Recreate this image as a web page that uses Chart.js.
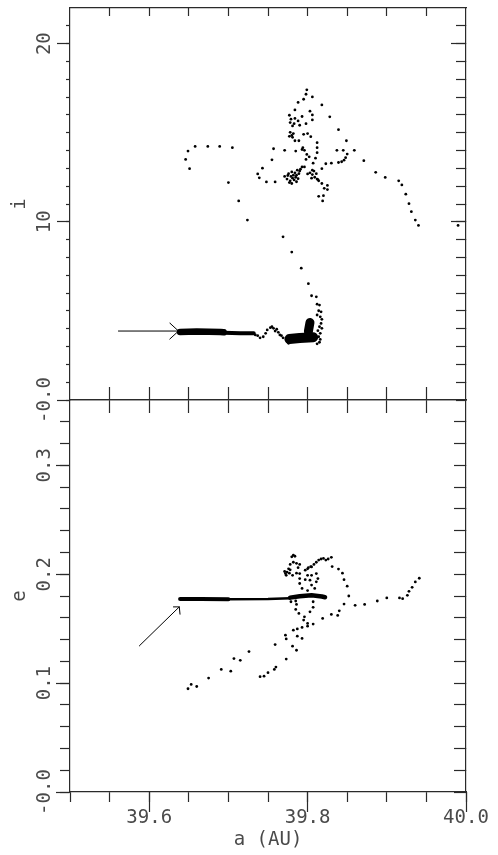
<!DOCTYPE html>
<html>
<head>
<meta charset="utf-8">
<script src="https://cdn.jsdelivr.net/npm/chart.js@4.4.1/dist/chart.umd.min.js"></script>
<style>
  html, body { margin: 0; padding: 0; background: #fff; }
  #wrap { position: relative; width: 498px; height: 855px; overflow: hidden; }
  canvas { position: absolute; left: 0; }
  #incChart { top: 0; }
  #eccChart { top: 380px; }
</style>
</head>
<body>
<div id="wrap">
  <canvas id="incChart" width="498" height="430"></canvas>
  <canvas id="eccChart" width="498" height="475"></canvas>
</div>
<script>
// axis ranges and tick values
const aRange = [39.5, 40.0];
const iRange = [0, 22];
const eRange = [0, 0.36];
const aTicksAll = [39.5, 39.55, 39.6, 39.65, 39.7, 39.75, 39.8, 39.85, 39.9, 39.95, 40.0];
const aTicksInner = [39.55, 39.6, 39.65, 39.7, 39.75, 39.8, 39.85, 39.9, 39.95];
const aTicksLabelled = [39.6, 39.8, 40.0];
const iTicksMinor = [0, 1, 2, 3, 4, 5, 6, 7, 8, 9, 10, 11, 12, 13, 14, 15, 16, 17, 18, 19, 20, 21];
const iTicksMajor = [0, 10, 20];
const eTicksMinor = [0, 0.02, 0.04, 0.06, 0.08, 0.1, 0.12, 0.14, 0.16, 0.18, 0.2, 0.22, 0.24, 0.26, 0.28, 0.3, 0.32, 0.34];
const eTicksMajor = [0, 0.1, 0.2, 0.3];

// upper panel: [a, i]
const topArcPts = [
  [39.649, 13.97], [39.646, 13.50], [39.651, 12.98], [39.658, 14.23], [39.674, 14.23], [39.689, 14.23],
  [39.705, 14.16], [39.700, 12.20], [39.713, 11.17], [39.724, 10.10], [39.769, 9.16], [39.780, 8.30],
  [39.792, 7.40], [39.801, 6.53]
];
const topCloudPts = [
  [39.799, 17.41], [39.798, 17.16], [39.806, 17.01], [39.795, 16.88], [39.788, 16.70], [39.818, 16.56],
  [39.784, 16.28], [39.803, 16.21], [39.806, 16.00], [39.777, 15.98], [39.793, 15.91], [39.828, 15.89],
  [39.779, 15.76], [39.784, 15.80], [39.788, 15.66], [39.778, 15.57], [39.783, 15.51], [39.790, 15.42],
  [39.781, 15.38], [39.798, 15.51], [39.806, 15.72], [39.839, 15.17],
  [39.778, 15.02], [39.780, 14.85], [39.782, 14.95], [39.777, 14.80], [39.781, 14.74],
  [39.800, 14.95], [39.795, 14.91], [39.804, 14.78], [39.789, 14.55], [39.784, 14.55], [39.849, 14.55],
  [39.812, 14.44], [39.812, 14.16], [39.812, 13.88], [39.794, 14.16], [39.793, 14.06], [39.796, 14.01],
  [39.757, 14.10], [39.771, 14.01], [39.785, 13.97], [39.837, 14.01], [39.845, 14.01], [39.859, 14.01],
  [39.850, 13.80], [39.848, 13.60], [39.846, 13.46], [39.843, 13.37], [39.839, 13.33], [39.799, 13.78],
  [39.802, 13.65], [39.798, 13.50], [39.755, 13.48], [39.810, 13.57], [39.807, 13.29], [39.830, 13.29],
  [39.823, 13.26], [39.818, 12.98], [39.871, 13.43], [39.743, 13.01], [39.737, 12.69], [39.739, 12.47],
  [39.748, 12.24], [39.759, 12.24]
];
const topKnotPts = [
  [39.771, 12.55], [39.774, 12.40], [39.776, 12.70], [39.778, 12.30], [39.779, 12.55], [39.780, 12.80],
  [39.781, 12.45], [39.782, 12.62], [39.783, 12.35], [39.784, 12.75], [39.785, 12.50], [39.786, 12.62],
  [39.787, 12.90], [39.788, 12.42], [39.789, 12.70], [39.790, 12.85], [39.791, 12.95], [39.793, 13.08],
  [39.777, 12.20], [39.780, 12.15], [39.775, 12.60], [39.786, 12.25],
  [39.803, 12.75], [39.806, 12.65], [39.809, 12.50], [39.812, 12.40], [39.811, 12.70], [39.805, 12.45],
  [39.814, 12.30], [39.808, 12.85], [39.796, 13.08], [39.800, 12.69], [39.806, 12.90], [39.813, 12.37],
  [39.818, 12.15], [39.825, 12.04], [39.825, 11.81], [39.821, 11.88], [39.814, 11.43], [39.820, 11.47],
  [39.819, 11.17]
];
const topTailPts = [
  [39.886, 12.78], [39.898, 12.49], [39.915, 12.30], [39.919, 12.07], [39.924, 11.55], [39.928, 11.02],
  [39.931, 10.57], [39.936, 10.10], [39.940, 9.80], [39.990, 9.80]
];
const topColumnPts = [
  [39.805, 5.85], [39.811, 5.79], [39.812, 5.38], [39.815, 5.33], [39.814, 5.01], [39.817, 4.95],
  [39.812, 4.77], [39.816, 4.67], [39.818, 4.53], [39.817, 4.30], [39.815, 4.11], [39.818, 4.02],
  [39.813, 3.89], [39.816, 3.74], [39.814, 3.55], [39.816, 3.40], [39.815, 3.24], [39.812, 3.15],
  [39.776, 3.18]
];
const topWigglePts = [
  [39.734, 3.65], [39.737, 3.61], [39.740, 3.49], [39.744, 3.55], [39.747, 3.74], [39.749, 3.93],
  [39.753, 4.06], [39.755, 4.11], [39.757, 4.02], [39.759, 3.87], [39.761, 3.97], [39.763, 3.80],
  [39.765, 3.65], [39.767, 3.61], [39.769, 3.49], [39.773, 3.37]
];
// dense streaks drawn as thick strokes
const topBandWide = [[39.639, 3.82], [39.660, 3.84], [39.690, 3.82], [39.694, 3.80]];
const topBandNarrow = [[39.694, 3.78], [39.715, 3.74], [39.732, 3.74]];
const topBlobLow = [[39.777, 3.42], [39.790, 3.48], [39.807, 3.52]];
const topBlobHigh = [[39.801, 3.85], [39.803, 4.35]];
const topArrow = [[39.561, 3.87], [39.637, 3.87]];
const topArrowHead = [[39.626, 4.32], [39.637, 3.87], [39.626, 3.42]];

// lower panel: [a, e]
const eLoopPts = [
  [39.782, 0.2175], [39.784, 0.2165], [39.780, 0.2160], [39.776, 0.205], [39.778, 0.209], [39.782, 0.211],
  [39.786, 0.210], [39.788, 0.206], [39.786, 0.201], [39.781, 0.199], [39.777, 0.201], [39.771, 0.2025],
  [39.773, 0.199], [39.778, 0.204], [39.774, 0.202], [39.772, 0.2006], [39.790, 0.209]
];
const eArcPts = [
  [39.800, 0.205], [39.804, 0.207], [39.808, 0.209], [39.811, 0.211], [39.814, 0.213], [39.817, 0.214],
  [39.820, 0.2145], [39.823, 0.213], [39.826, 0.214], [39.830, 0.2155], [39.831, 0.207], [39.839, 0.2047],
  [39.844, 0.201], [39.846, 0.195], [39.850, 0.189], [39.852, 0.180], [39.846, 0.1726], [39.840, 0.1664],
  [39.838, 0.1622], [39.830, 0.1631], [39.819, 0.1594], [39.807, 0.1542], [39.800, 0.1523], [39.800, 0.1548],
  [39.795, 0.1579], [39.796, 0.1609], [39.789, 0.1640], [39.785, 0.1677], [39.786, 0.1723], [39.779, 0.1747],
  [39.785, 0.1754], [39.803, 0.1655], [39.807, 0.1696], [39.807, 0.1747]
];
const eInnerPts = [
  [39.790, 0.2006], [39.797, 0.2037], [39.801, 0.206], [39.805, 0.2067], [39.800, 0.199], [39.805, 0.199],
  [39.811, 0.2006], [39.790, 0.196], [39.797, 0.195], [39.803, 0.1945], [39.813, 0.196], [39.811, 0.193],
  [39.790, 0.1915], [39.805, 0.190], [39.793, 0.187], [39.800, 0.185], [39.809, 0.187]
];
const eLowerPts = [
  [39.793, 0.1511], [39.787, 0.1498], [39.782, 0.1486], [39.772, 0.1440], [39.773, 0.1406], [39.787, 0.1431],
  [39.793, 0.1410], [39.759, 0.1354], [39.781, 0.1339], [39.786, 0.1302], [39.773, 0.1221], [39.760, 0.1147],
  [39.758, 0.1126], [39.750, 0.1096], [39.745, 0.1064], [39.740, 0.1059], [39.726, 0.1290], [39.707, 0.1225],
  [39.715, 0.1209], [39.691, 0.1126], [39.703, 0.1110], [39.675, 0.1046], [39.649, 0.0948], [39.653, 0.0988],
  [39.660, 0.0969]
];
const eTailPts = [
  [39.860, 0.1714], [39.872, 0.1723], [39.888, 0.1754], [39.900, 0.1782], [39.916, 0.1782], [39.920, 0.1775],
  [39.926, 0.1806], [39.928, 0.1843], [39.932, 0.1880], [39.936, 0.1929], [39.941, 0.1963]
];
const eBandWide = [[39.639, 0.1772], [39.665, 0.1773], [39.700, 0.1770]];
const eBandNarrow = [[39.700, 0.1770], [39.750, 0.1772], [39.778, 0.1780]];
const eBandRight = [[39.778, 0.1785], [39.790, 0.1798], [39.805, 0.1806], [39.818, 0.1795], [39.822, 0.1788]];
const eArrow = [[39.5875, 0.1342], [39.638, 0.170]];
const eArrowHead = [[39.6304, 0.170], [39.638, 0.170], [39.6389, 0.1633]];

const ink = '#2a2a2a';
const textInk = '#4a4a4a';
const tickFont = { family: "'DejaVu Sans Mono', monospace", size: 19 };

function toXY(pts) {
  return pts.map(p => ({ x: p[0], y: p[1] }));
}

function dots(pts) {
  return {
    data: toXY(pts),
    pointRadius: 1.4,
    pointBackgroundColor: '#000',
    pointBorderWidth: 0,
    showLine: false
  };
}

function stroke(pts, width) {
  return {
    data: toXY(pts),
    showLine: true,
    pointRadius: 0,
    borderColor: '#000',
    borderWidth: width,
    borderCapStyle: 'round',
    borderJoinStyle: 'round',
    tension: 0,
    fill: false
  };
}

function fixTicks(values) {
  return scale => { scale.ticks = values.map(v => ({ value: v })); };
}

function fixSize(size) {
  return scale => {
    if (scale.isHorizontal()) scale.height = size;
    else scale.width = size;
  };
}

// axis that only carries tick marks (negative length = pointing inwards)
function markAxis(position, range, values, size, tickLength, showBorder) {
  return {
    type: 'linear',
    position: position,
    min: range[0],
    max: range[1],
    afterBuildTicks: fixTicks(values),
    afterFit: fixSize(size),
    ticks: { display: false },
    grid: { drawOnChartArea: false, drawTicks: true, tickLength: tickLength, tickColor: ink, tickWidth: 1.2 },
    border: { display: showBorder, color: ink, width: 1.2 }
  };
}

function labelledY(range, values, tickLength, pad, title, fmt) {
  return {
    type: 'linear',
    position: 'left',
    min: range[0],
    max: range[1],
    afterBuildTicks: fixTicks(values),
    afterFit: fixSize(70),
    ticks: {
      autoSkip: false, minRotation: 90, maxRotation: 90, crossAlign: 'center',
      padding: pad, font: tickFont, color: textInk, callback: fmt
    },
    grid: { drawOnChartArea: false, drawTicks: true, tickLength: tickLength, tickColor: ink, tickWidth: 1.2 },
    border: { display: false },
    title: { display: true, text: title, font: tickFont, color: textInk, padding: { top: 9, bottom: 0 } }
  };
}

const fmtI = v => (v === 0 ? '-0.0' : String(v));
const fmtE = v => (v === 0 ? '-0.0' : v.toFixed(1));

const common = {
  responsive: false,
  animation: false,
  events: [],
  layout: { autoPadding: false, padding: 0 },
  plugins: { legend: { display: false }, tooltip: { enabled: false } }
};

// i vs a
new Chart(document.getElementById('incChart').getContext('2d'), {
  type: 'scatter',
  data: {
    datasets: [
      stroke(topBandWide, 6.5),
      stroke(topBandNarrow, 4),
      stroke(topBlobLow, 10),
      stroke(topBlobHigh, 9),
      stroke(topArrow, 1),
      stroke(topArrowHead, 1),
      dots(topArcPts),
      dots(topCloudPts),
      dots(topKnotPts),
      dots(topTailPts),
      dots(topColumnPts),
      dots(topWigglePts)
    ]
  },
  options: Object.assign({}, common, {
    scales: {
      yMin: markAxis('left', iRange, iTicksMinor, 0, 4, true),
      y: labelledY(iRange, iTicksMajor, 13, -11.4, 'i', fmtI),
      yRMaj: markAxis('right', iRange, [10, 20], 0, -15, false),
      yR: markAxis('right', iRange, iTicksMinor, 32, -10, true),
      xT: markAxis('top', aRange, aTicksInner, 8, -8, true),
      x: markAxis('bottom', aRange, aTicksInner, 30, 13, true)
    }
  })
});

// e vs a
new Chart(document.getElementById('eccChart').getContext('2d'), {
  type: 'scatter',
  data: {
    datasets: [
      stroke(eBandWide, 4),
      stroke(eBandNarrow, 2.5),
      stroke(eBandRight, 4.5),
      stroke(eArrow, 1),
      stroke(eArrowHead, 1),
      dots(eLoopPts),
      dots(eArcPts),
      dots(eInnerPts),
      dots(eLowerPts),
      dots(eTailPts)
    ]
  },
  options: Object.assign({}, common, {
    scales: {
      yMin: markAxis('left', eRange, eTicksMinor, 0, 10, true),
      y: labelledY(eRange, eTicksMajor, 14, -12.4, 'e', fmtE),
      yR: markAxis('right', eRange, eTicksMinor, 32, -12, true),
      xT: markAxis('top', aRange, aTicksInner, 20, 13, true),
      xMin: markAxis('bottom', aRange, aTicksAll, 0, 10, true),
      x: {
        type: 'linear',
        position: 'bottom',
        min: aRange[0],
        max: aRange[1],
        afterBuildTicks: fixTicks(aTicksLabelled),
        afterFit: fixSize(63),
        ticks: {
          autoSkip: false, minRotation: 0, maxRotation: 0, padding: -5.4,
          font: tickFont, color: textInk, callback: v => v.toFixed(1)
        },
        grid: { drawOnChartArea: false, drawTicks: true, tickLength: 20, tickColor: ink, tickWidth: 1.2 },
        border: { display: false },
        title: { display: true, text: 'a (AU)', font: tickFont, color: textInk, padding: { top: 0, bottom: 3.6 } }
      }
    }
  })
});
</script>
</body>
</html>
